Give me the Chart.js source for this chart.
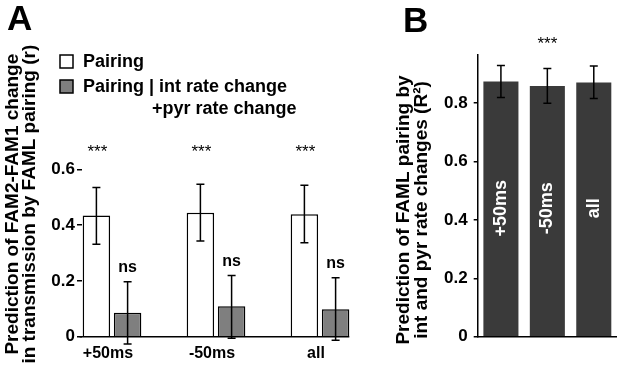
<!DOCTYPE html>
<html>
<head>
<meta charset="utf-8">
<script src="https://cdn.jsdelivr.net/npm/chart.js@4"></script>
<style>
  html, body { margin: 0; padding: 0; background: #ffffff; }
  body { width: 617px; height: 369px; position: relative; overflow: hidden; }
  #wrapA { position: absolute; left: 0; top: 0; width: 380px; height: 369px; }
  #wrapB { position: absolute; left: 380px; top: 0; width: 237px; height: 369px; }
</style>
</head>
<body>
<div id="wrapA"><canvas id="chartA" width="380" height="369"></canvas></div>
<div id="wrapB"><canvas id="chartB" width="237" height="369"></canvas></div>
<script>
// ---------- data ----------
const categories = ['+50ms', '-50ms', 'all'];

// Panel A
const seriesNamesA = ['Pairing', 'Pairing | int rate change', '+pyr rate change'];
const pairingR = [0.434, 0.444, 0.439];
const pairingLow = [0.331, 0.343, 0.337];
const pairingHigh = [0.535, 0.546, 0.543];
const partialR = [0.086, 0.109, 0.098];
const partialLow = [-0.026, -0.006, -0.013];
const partialHigh = [0.197, 0.219, 0.211];
const pairingSig = ['***', '***', '***'];
const partialSig = ['ns', 'ns', 'ns'];
const ticksA = [0, 0.2, 0.4, 0.6];
const yTitleA = ['Prediction of FAM2-FAM1 change', 'in transmission by FAML pairing (r)'];

// Panel B
const famlR2 = [0.874, 0.859, 0.871];
const famlLow = [0.819, 0.800, 0.816];
const famlHigh = [0.929, 0.919, 0.927];
const famlSig = '***';
const ticksB = [0, 0.2, 0.4, 0.6, 0.8];
const yTitleB = ['Prediction of FAML pairing by', 'int and pyr rate changes (R\u00B2)'];

// ---------- common ----------
const FONT = '"Liberation Sans", Arial, Helvetica, sans-serif';
Chart.defaults.font.family = FONT;
Chart.defaults.color = '#000';
const fmt = v => (v === 0 ? '0' : v.toFixed(1));

function drawErrorBars(chart) {
  const ctx = chart.ctx;
  const y = chart.scales.y;
  chart.data.datasets.forEach((ds, i) => {
    if (!ds.errLow) return;
    const meta = chart.getDatasetMeta(i);
    meta.data.forEach((bar, j) => {
      const yl = y.getPixelForValue(ds.errLow[j]);
      const yh = y.getPixelForValue(ds.errHigh[j]);
      ctx.save();
      ctx.strokeStyle = '#000';
      ctx.lineWidth = 1.5;
      ctx.beginPath();
      ctx.moveTo(bar.x, yl); ctx.lineTo(bar.x, yh);
      ctx.moveTo(bar.x - 4, yl); ctx.lineTo(bar.x + 4, yl);
      ctx.moveTo(bar.x - 4, yh); ctx.lineTo(bar.x + 4, yh);
      ctx.stroke();
      ctx.restore();
    });
  });
}

// ---------- Panel A ----------
const panelAPlugin = {
  id: 'panelA',
  afterLayout(chart) {
    // the value axis of panel A sits a little inside the plot box: move its right edge
    const s = chart.scales.y;
    s.right = 82;
    s.width = 82;
  },
  afterDatasetsDraw(chart) {
    const ctx = chart.ctx;
    const y = chart.scales.y;
    const m0 = chart.getDatasetMeta(0).data;
    const m1 = chart.getDatasetMeta(1).data;
    // baseline at zero
    const y0 = y.getPixelForValue(0);
    ctx.save();
    ctx.strokeStyle = '#000';
    ctx.lineWidth = 1.5;
    ctx.beginPath();
    ctx.moveTo(m0[0].x - m0[0].width / 2 - 3, y0);
    ctx.lineTo(m1[m1.length - 1].x + m1[m1.length - 1].width / 2, y0);
    ctx.stroke();
    ctx.restore();

    drawErrorBars(chart);

    ctx.save();
    ctx.fillStyle = '#000';
    ctx.textAlign = 'center';
    ctx.textBaseline = 'middle';
    // significance
    ctx.font = '17px ' + FONT;
    m0.forEach((bar, j) => {
      ctx.fillText(pairingSig[j], bar.x + 1, y.getPixelForValue(0.667) + 2);
    });
    ctx.font = 'bold 16px ' + FONT;
    m1.forEach((bar, j) => {
      ctx.fillText(partialSig[j], bar.x, y.getPixelForValue(partialHigh[j]) - 14);
    });
    // panel letter
    ctx.textAlign = 'left';
    ctx.textBaseline = 'alphabetic';
    ctx.font = 'bold 35px ' + FONT;
    ctx.fillText('A', 7, 30);
    // legend
    ctx.lineWidth = 1.5;
    ctx.strokeStyle = '#000';
    const ds = chart.data.datasets;
    ctx.fillStyle = ds[0].backgroundColor;
    ctx.fillRect(60, 55, 13, 13); ctx.strokeRect(60, 55, 13, 13);
    ctx.fillStyle = ds[1].backgroundColor;
    ctx.fillRect(60, 80, 13, 13); ctx.strokeRect(60, 80, 13, 13);
    ctx.fillStyle = '#000';
    ctx.textBaseline = 'middle';
    ctx.font = 'bold 18px ' + FONT;
    ctx.fillText(seriesNamesA[0], 83, 62);
    ctx.fillText(seriesNamesA[1], 83, 87);
    ctx.fillText(seriesNamesA[2], 152, 109);
    ctx.restore();
  }
};

new Chart(document.getElementById('chartA'), {
  type: 'bar',
  data: {
    labels: categories,
    datasets: [
      { label: seriesNamesA[0], data: pairingR, errLow: pairingLow, errHigh: pairingHigh,
        backgroundColor: '#ffffff', borderColor: '#000', borderWidth: 1.5,
        barPercentage: 0.88, categoryPercentage: 0.6 },
      { label: seriesNamesA[1] + ' ' + seriesNamesA[2], data: partialR, errLow: partialLow, errHigh: partialHigh,
        backgroundColor: '#7f7f7f', borderColor: '#000', borderWidth: 1.5,
        barPercentage: 0.88, categoryPercentage: 0.6 }
    ]
  },
  options: {
    responsive: false,
    animation: false,
    devicePixelRatio: 1,
    layout: { padding: { left: 0, right: 8, top: 71.6, bottom: 0 } },
    plugins: { legend: { display: false }, tooltip: { enabled: false } },
    scales: {
      x: {
        grid: { display: false, drawTicks: false },
        border: { display: false },
        ticks: { font: { size: 16, weight: 'bold' }, color: '#000', padding: 7, labelOffset: -4 },
        afterFit: s => { s.height = 32.3; }
      },
      y: {
        min: 0, max: 0.95,
        grid: { display: true, drawOnChartArea: false, drawTicks: true, tickLength: 5, color: '#000', lineWidth: 1.5 },
        border: { display: false },
        afterBuildTicks: s => { s.ticks = ticksA.map(v => ({ value: v })); },
        ticks: { font: { size: 17, weight: 'bold' }, color: '#000', padding: 2, callback: v => fmt(v) },
        title: { display: true, text: yTitleA, color: '#000',
                 font: { size: 19, weight: 'bold', lineHeight: 0.9 }, padding: { top: 4.5, bottom: 0 } },
        afterFit: s => { s.width = 60; }
      }
    }
  },
  plugins: [panelAPlugin]
});

// ---------- Panel B ----------
const panelBPlugin = {
  id: 'panelB',
  afterDatasetsDraw(chart) {
    const ctx = chart.ctx;
    const y = chart.scales.y;
    const bars = chart.getDatasetMeta(0).data;
    drawErrorBars(chart);
    ctx.save();
    ctx.fillStyle = '#000';
    ctx.textAlign = 'center';
    ctx.textBaseline = 'middle';
    ctx.font = '17px ' + FONT;
    ctx.fillText(famlSig, bars[1].x, 44);
    // labels inside bars
    ctx.fillStyle = '#ffffff';
    ctx.font = 'bold 18px ' + FONT;
    bars.forEach((bar, j) => {
      ctx.save();
      ctx.translate(bar.x, y.getPixelForValue(0.44));
      ctx.rotate(-Math.PI / 2);
      ctx.fillText(categories[j], 0, 0);
      ctx.restore();
    });
    // axis title (two lines, rotated)
    ctx.fillStyle = '#000';
    ctx.font = 'bold 19px ' + FONT;
    yTitleB.forEach((line, k) => {
      ctx.save();
      ctx.translate(23.5 + k * 18, 210);
      ctx.rotate(-Math.PI / 2);
      ctx.fillText(line, 0, 0);
      ctx.restore();
    });
    // panel letter
    ctx.textAlign = 'left';
    ctx.textBaseline = 'alphabetic';
    ctx.font = 'bold 35px ' + FONT;
    ctx.fillText('B', 23, 32);
    ctx.restore();
  }
};

new Chart(document.getElementById('chartB'), {
  type: 'bar',
  data: {
    labels: categories,
    datasets: [
      { label: 'FAML pairing R\u00B2', data: famlR2, errLow: famlLow, errHigh: famlHigh,
        backgroundColor: '#3a3a3a', borderWidth: 0,
        barPercentage: 0.755, categoryPercentage: 1 }
    ]
  },
  options: {
    responsive: false,
    animation: false,
    devicePixelRatio: 1,
    layout: { padding: { left: 0, right: 0, top: 55, bottom: 32.3 } },
    plugins: { legend: { display: false }, tooltip: { enabled: false } },
    scales: {
      x: {
        grid: { display: false, drawTicks: false },
        border: { display: true, color: '#000', width: 1.5 },
        ticks: { display: false },
        afterFit: s => { s.height = 0; }
      },
      y: {
        min: 0, max: 0.965,
        grid: { display: true, drawOnChartArea: false, drawTicks: true, tickLength: 4, color: '#000', lineWidth: 1.5 },
        border: { display: true, color: '#000', width: 1.5 },
        afterBuildTicks: s => { s.ticks = ticksB.map(v => ({ value: v })); },
        ticks: { font: { size: 17, weight: 'bold' }, color: '#000', padding: 6, callback: v => fmt(v) },
        afterFit: s => { s.width = 97.7; }
      }
    }
  },
  plugins: [panelBPlugin]
});
</script>
</body>
</html>
